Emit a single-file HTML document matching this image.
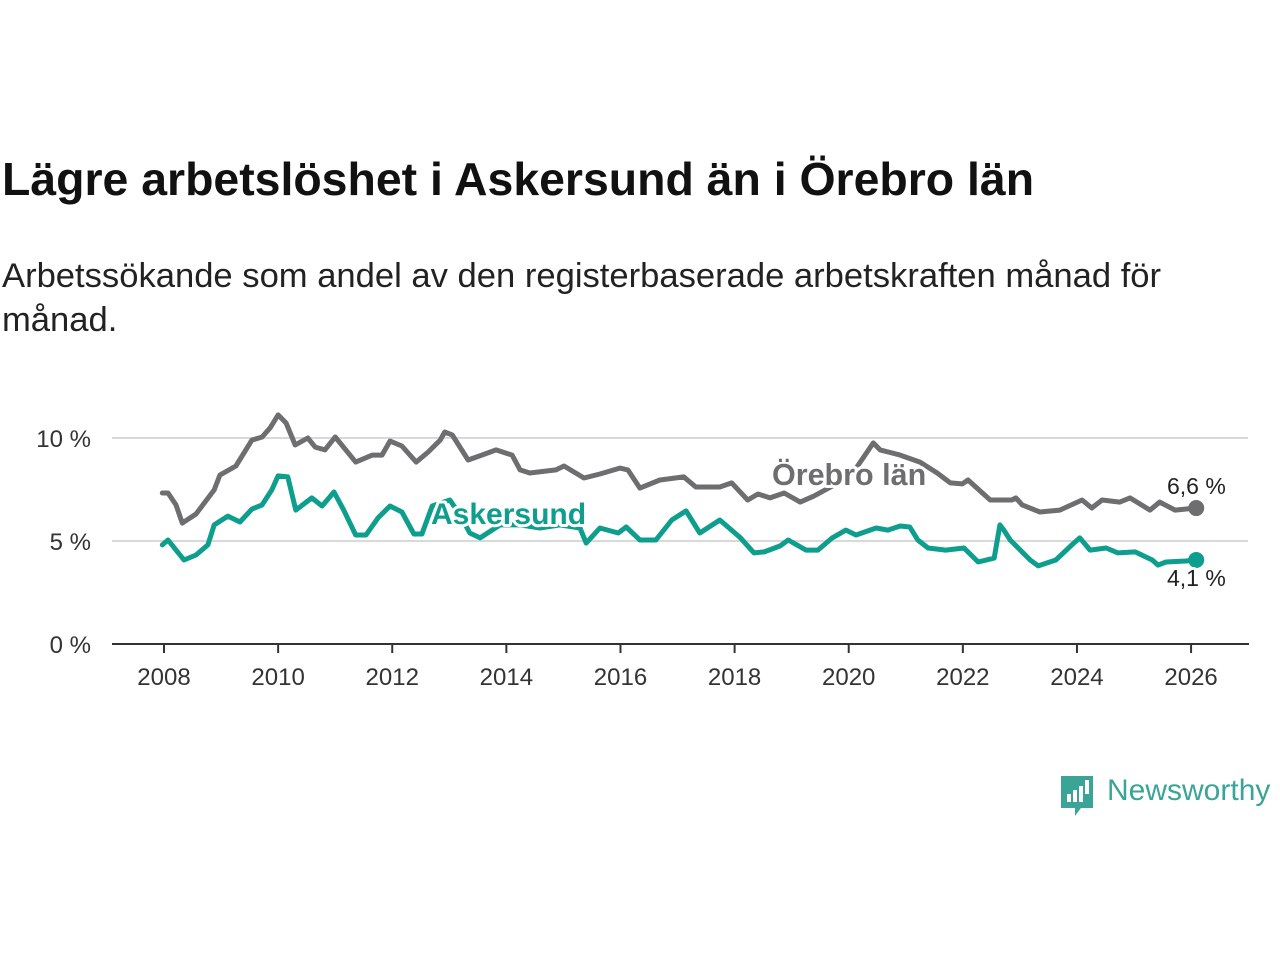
<!DOCTYPE html>
<html><head><meta charset="utf-8"><style>
body{margin:0;background:#fff;width:1280px;height:960px;overflow:hidden;font-family:"Liberation Sans","DejaVu Sans",sans-serif}
h1{position:absolute;left:2px;top:152px;margin:0;font-size:46.4px;font-weight:bold;color:#111;white-space:nowrap}
p.sub{position:absolute;left:2px;top:254px;margin:0;font-size:34.6px;line-height:44px;color:#222;width:1200px}
svg{position:absolute;left:0;top:0}
</style></head><body>
<h1>Lägre arbetslöshet i Askersund än i Örebro län</h1>
<p class="sub">Arbetssökande som andel av den registerbaserade arbetskraften månad för månad.</p>
<svg id="c" width="1280" height="960"></svg>
<script>
const xTicks=[2008,2010,2012,2014,2016,2018,2020,2022,2024,2026];
const yTicks=[0,5,10];
const orebroDates=[2007.97,2008.07,2008.21,2008.32,2008.56,2008.88,2008.98,2009.26,2009.54,2009.72,2009.86,2010.0,2010.14,2010.3,2010.52,2010.65,2010.82,2011.0,2011.26,2011.36,2011.65,2011.82,2011.96,2012.17,2012.42,2012.63,2012.84,2012.92,2013.05,2013.33,2013.57,2013.82,2014.1,2014.24,2014.41,2014.87,2015.01,2015.36,2015.64,2015.99,2016.13,2016.34,2016.69,2017.11,2017.32,2017.74,2017.95,2018.23,2018.41,2018.62,2018.87,2019.15,2019.39,2019.78,2020.11,2020.43,2020.55,2020.9,2021.25,2021.55,2021.78,2021.99,2022.09,2022.48,2022.86,2022.93,2023.04,2023.35,2023.7,2024.09,2024.26,2024.44,2024.75,2024.93,2025.28,2025.45,2025.72,2026.09];
const orebroValues=[7.33,7.33,6.75,5.87,6.31,7.48,8.2,8.64,9.9,10.05,10.49,11.12,10.73,9.66,10.0,9.56,9.42,10.05,9.17,8.83,9.17,9.17,9.85,9.61,8.83,9.32,9.9,10.29,10.15,8.93,9.17,9.42,9.17,8.45,8.3,8.45,8.64,8.06,8.25,8.54,8.45,7.57,7.96,8.11,7.62,7.62,7.82,6.99,7.28,7.09,7.33,6.89,7.18,7.77,8.45,9.76,9.42,9.17,8.83,8.3,7.82,7.77,7.96,6.99,6.99,7.09,6.75,6.41,6.5,6.99,6.6,6.99,6.89,7.09,6.5,6.89,6.5,6.6];
const askDates=[2007.97,2008.07,2008.35,2008.56,2008.77,2008.88,2009.12,2009.33,2009.54,2009.72,2009.89,2010.0,2010.17,2010.31,2010.59,2010.77,2010.98,2011.15,2011.36,2011.54,2011.75,2011.96,2012.17,2012.38,2012.52,2012.7,2013.01,2013.19,2013.36,2013.54,2013.89,2014.24,2014.59,2014.94,2015.29,2015.4,2015.64,2015.96,2016.1,2016.34,2016.62,2016.9,2017.15,2017.39,2017.74,2018.09,2018.34,2018.52,2018.8,2018.94,2019.25,2019.46,2019.71,2019.95,2020.13,2020.48,2020.69,2020.9,2021.07,2021.21,2021.39,2021.7,2022.02,2022.27,2022.55,2022.65,2022.72,2022.83,2023.18,2023.32,2023.63,2023.91,2024.05,2024.23,2024.51,2024.72,2025.02,2025.32,2025.42,2025.56,2025.91,2026.09];
const askValues=[4.81,5.05,4.08,4.32,4.81,5.78,6.21,5.92,6.55,6.75,7.48,8.16,8.11,6.5,7.09,6.7,7.38,6.5,5.29,5.29,6.12,6.7,6.41,5.34,5.34,6.7,6.99,6.26,5.39,5.15,5.78,5.78,5.63,5.78,5.63,4.9,5.63,5.39,5.68,5.05,5.05,6.02,6.46,5.39,6.02,5.19,4.42,4.47,4.76,5.05,4.56,4.56,5.15,5.53,5.29,5.63,5.53,5.73,5.68,5.05,4.66,4.56,4.66,3.98,4.17,5.78,5.53,5.05,4.08,3.79,4.08,4.81,5.15,4.56,4.66,4.42,4.47,4.08,3.83,3.98,4.03,4.08];
const NS='http://www.w3.org/2000/svg';
const svg=document.getElementById('c');
const X=t=>164+(t-2008)*57.06;
const Y=v=>644-v*20.6;
function mk(tag,attrs,parent){const e=document.createElementNS(NS,tag);for(const k in attrs)e.setAttribute(k,attrs[k]);(parent||svg).appendChild(e);return e;}
yTicks.forEach(v=>{
  if(v>0){const g=mk('line',{x1:112,x2:1248,y1:Y(v),y2:Y(v),stroke:'#d9d9d9','stroke-width':2});
  
  }
  const t=mk('text',{x:91,y:Y(v)+9,'text-anchor':'end','font-size':24,fill:'#333'});t.textContent=v+' %';
  
  
});
const ax=mk('line',{x1:112,x2:1249,y1:644,y2:644,stroke:'#333','stroke-width':2});


xTicks.forEach(yr=>{
  const tk=mk('line',{x1:X(yr),x2:X(yr),y1:644,y2:653,stroke:'#333','stroke-width':2});
  
  
  const t=mk('text',{x:X(yr),y:685,'text-anchor':'middle','font-size':24,fill:'#333'});t.textContent=yr;
  
  
});
function line(d,v,col,name){
  const p=mk('path',{d:d.map((t,i)=>(i?'L':'M')+X(t).toFixed(1)+','+Y(v[i]).toFixed(1)).join(''),fill:'none',stroke:col,'stroke-width':5,'stroke-linejoin':'round','stroke-linecap':'round'});
  
  
  const n=d.length-1;
  const c=mk('circle',{cx:X(d[n]),cy:Y(v[n]),r:8,fill:col});
  
  
}
line(orebroDates,orebroValues,'#6e6e70','orebro-line');
line(askDates,askValues,'#0e9e8e','askersund-line');
function lab(x,y,txt,col,name,bold,size,halo){
  const t=mk('text',{x:x,y:y,'font-size':size,'font-weight':bold?'bold':'normal',fill:col,stroke:halo?'#fff':'none','stroke-width':halo?6:0,'paint-order':'stroke','stroke-linejoin':'round'});t.textContent=txt;
  
  
}
lab(772,485,'Örebro län','#6e6e70','orebro-label',true,30.5,true);
lab(431,524,'Askersund','#0e9e8e','askersund-label',true,30,true);
lab(1167,494,'6,6 %','#222','orebro-end-value',false,23,true);
lab(1167,586,'4,1 %','#222','askersund-end-value',false,23,true);
</script>
<div style="position:absolute;left:1059px;top:774px;height:44px;">
<svg width="36" height="44" style="position:absolute;left:0;top:0"><path d="M2 2h32v32H22l-6 8v-8H2z" fill="#3aa597"/><rect x="8" y="20" width="4" height="8" fill="#fff"/><rect x="14" y="16" width="4" height="12" fill="#fff"/><rect x="20" y="12" width="4" height="16" fill="#fff"/><rect x="26" y="6" width="4" height="14" fill="#fff"/></svg>
<span style="position:absolute;left:48px;top:0;font-size:30px;color:#3aa597;white-space:nowrap">Newsworthy</span>
</div>
</body></html>
